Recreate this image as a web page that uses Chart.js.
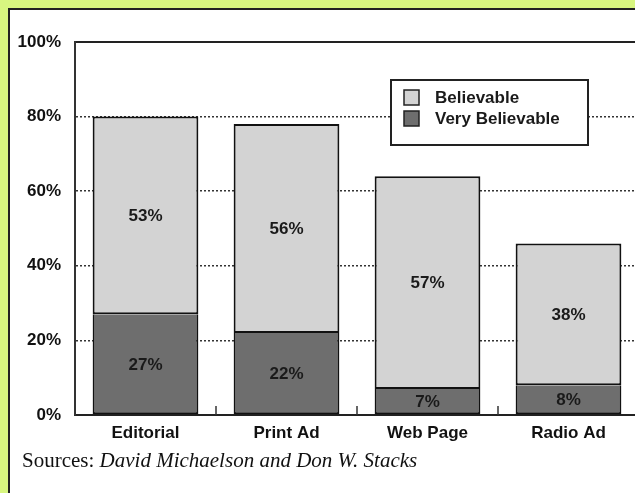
<!DOCTYPE html>
<html>
<head>
<meta charset="utf-8">
<script src="https://cdn.jsdelivr.net/npm/chart.js@4.4.1/dist/chart.umd.min.js"></script>
<style>
  html, body { margin: 0; padding: 0; }
  body { width: 635px; height: 493px; overflow: hidden; background: #d8f680; position: relative; }
  #panel { position: absolute; left: 8px; top: 8px; width: 640px; height: 500px; background: #fff;
           border-left: 2px solid #222; border-top: 2px solid #222; }
  #wrap { position: absolute; left: 0; top: 0; width: 660px; height: 493px; }
  #src { position: absolute; left: 22px; top: 448px; font: 21px "Liberation Serif", "Times New Roman", serif; color: #111; white-space: nowrap; }
  #src i { font-style: italic; }
</style>
</head>
<body>
<div id="panel"></div>
<div id="wrap"><canvas id="chart" width="660" height="493"></canvas></div>
<div id="src">Sources: <i>David Michaelson and Don W. Stacks</i></div>
<script>
var categories = ['Editorial', 'Print Ad', 'Web Page', 'Radio Ad'];
var veryBelievable = [27, 22, 7, 8];
var believable = [53, 56, 57, 38];
var yTicks = [0, 20, 40, 60, 80, 100];

var labelFont = 'bold 17px "Liberation Sans", Arial, sans-serif';

// percentage labels centred in each segment
var segmentLabels = {
  id: 'segmentLabels',
  afterDatasetsDraw: function (chart) {
    var ctx = chart.ctx;
    ctx.save();
    ctx.font = labelFont;
    ctx.fillStyle = '#1a1a1a';
    ctx.textAlign = 'center';
    ctx.textBaseline = 'middle';
    chart.data.datasets.forEach(function (ds, di) {
      chart.getDatasetMeta(di).data.forEach(function (bar, i) {
        ctx.fillText(ds.data[i] + '%', bar.x, (bar.y + bar.base) / 2 + 1);
      });
    });
    ctx.restore();
  }
};

// small upward tick marks between categories
var categoryTicks = {
  id: 'categoryTicks',
  afterDatasetsDraw: function (chart) {
    var x = chart.scales.x, ctx = chart.ctx, bottom = chart.chartArea.bottom;
    ctx.save();
    ctx.strokeStyle = '#333';
    ctx.lineWidth = 1.5;
    for (var i = 0; i < categories.length - 1; i++) {
      var px = (x.getPixelForValue(i) + x.getPixelForValue(i + 1)) / 2;
      ctx.beginPath();
      ctx.moveTo(px, bottom);
      ctx.lineTo(px, bottom - 9);
      ctx.stroke();
    }
    ctx.restore();
  }
};

// boxed legend inside the plot
var boxLegend = {
  id: 'boxLegend',
  afterDraw: function (chart) {
    var ctx = chart.ctx, a = chart.chartArea;
    var left = a.left + 316, top = 80, w = 197, h = 65;
    ctx.save();
    ctx.fillStyle = '#fff';
    ctx.fillRect(left, top, w, h);
    ctx.strokeStyle = '#222';
    ctx.lineWidth = 2;
    ctx.strokeRect(left, top, w, h);
    var items = [
      { text: 'Believable', color: '#d3d3d3' },
      { text: 'Very Believable', color: '#6e6e6e' }
    ];
    ctx.font = labelFont;
    ctx.textBaseline = 'middle';
    ctx.textAlign = 'left';
    items.forEach(function (it, k) {
      var y = top + 17 + k * 21;
      ctx.fillStyle = it.color;
      ctx.fillRect(left + 13, y - 7, 15, 15);
      ctx.strokeStyle = '#222';
      ctx.lineWidth = 1.5;
      ctx.strokeRect(left + 13, y - 7, 15, 15);
      ctx.fillStyle = '#1a1a1a';
      ctx.fillText(it.text, left + 44, y + 1);
    });
    ctx.restore();
  }
};

new Chart(document.getElementById('chart'), {
  type: 'bar',
  data: {
    labels: categories,
    datasets: [
      { label: 'Very Believable', data: veryBelievable, backgroundColor: '#6e6e6e',
        borderColor: '#111', borderWidth: { top: 0, left: 2, right: 2, bottom: 2 }, borderSkipped: false },
      { label: 'Believable', data: believable, backgroundColor: '#d3d3d3',
        borderColor: '#111', borderWidth: 2, borderSkipped: false }
    ]
  },
  options: {
    responsive: false,
    animation: false,
    layout: { padding: { top: 42, left: 0, right: 21, bottom: 0 } },
    datasets: { bar: { barPercentage: 0.75, categoryPercentage: 1 } },
    plugins: { legend: { display: false }, tooltip: { enabled: false } },
    scales: {
      x: {
        stacked: true,
        grid: { display: false, drawTicks: false },
        border: { color: '#222', width: 2 },
        ticks: { font: { family: '"Liberation Sans", Arial', size: 17, weight: 'bold' }, color: '#111', padding: 8 },
        afterFit: function (s) { s.height = 78; }
      },
      xTop: {
        position: 'top',
        grid: { display: false, drawTicks: false },
        ticks: { display: false },
        border: { color: '#222', width: 2 },
        afterFit: function (s) { s.height = 0; }
      },
      y: {
        stacked: true,
        min: 0,
        max: 100,
        afterBuildTicks: function (s) { s.ticks = yTicks.map(function (v) { return { value: v }; }); },
        grid: {
          drawTicks: false,
          lineWidth: 1.5,
          color: function (c) { return (c.tick && (c.tick.value === 0 || c.tick.value === 100)) ? 'rgba(0,0,0,0)' : '#333'; }
        },
        border: { color: '#333', width: 2, dash: [2, 2] },
        ticks: {
          font: { family: '"Liberation Sans", Arial', size: 17, weight: 'bold' },
          color: '#111',
          padding: 14,
          callback: function (v) { return v + '%'; }
        },
        afterFit: function (s) { s.width = 75; }
      }
    }
  },
  plugins: [segmentLabels, categoryTicks, boxLegend]
});
</script>
</body>
</html>
